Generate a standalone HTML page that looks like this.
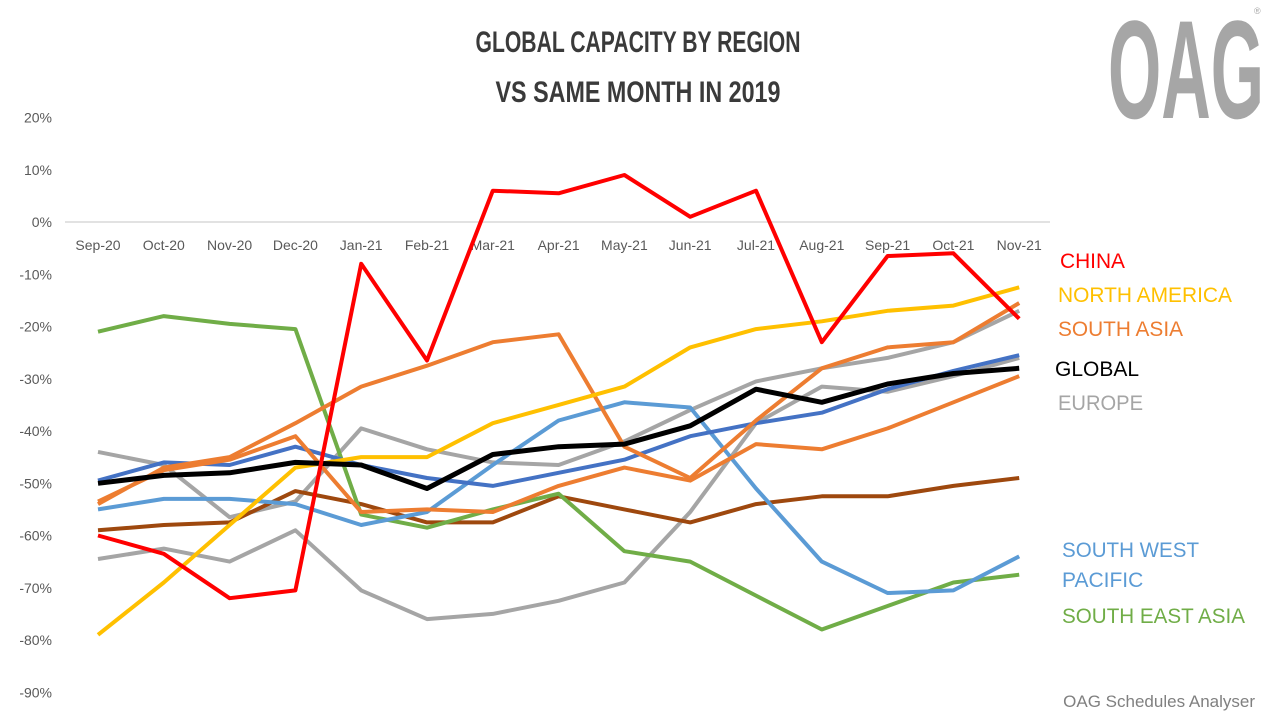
<!DOCTYPE html>
<html><head><meta charset="utf-8"><style>
body{margin:0;background:#fff;}
svg{display:block;font-family:"Liberation Sans",sans-serif;}
</style></head><body>
<svg id="c" width="1280" height="720" viewBox="0 0 1280 720" xmlns="http://www.w3.org/2000/svg">
<text x="638" y="52" text-anchor="middle" font-family="Liberation Sans Narrow, Liberation Sans, sans-serif" font-weight="bold" font-size="30" fill="#3a3a3a" textLength="325" lengthAdjust="spacingAndGlyphs">GLOBAL CAPACITY BY REGION</text>
<text x="638" y="102" text-anchor="middle" font-family="Liberation Sans Narrow, Liberation Sans, sans-serif" font-weight="bold" font-size="30" fill="#3a3a3a" textLength="285" lengthAdjust="spacingAndGlyphs">VS SAME MONTH IN 2019</text>
<text x="1108" y="118" font-family="Liberation Sans Narrow, Liberation Sans, sans-serif" font-weight="bold" font-size="140" fill="#a6a6a6" textLength="156" lengthAdjust="spacingAndGlyphs">OAG</text>
<text x="1254" y="14" font-size="9" fill="#a6a6a6">®</text>
<line x1="65" y1="222" x2="1050" y2="222" stroke="#d9d9d9" stroke-width="1.5"/>
<g id="g"></g>
<text x="1060" y="268" font-size="21" fill="#ff0000" textLength="65" lengthAdjust="spacingAndGlyphs">CHINA</text>
<text x="1058" y="302" font-size="21" fill="#ffc000" textLength="174" lengthAdjust="spacingAndGlyphs">NORTH AMERICA</text>
<text x="1058" y="336" font-size="21" fill="#ed7d31" textLength="125" lengthAdjust="spacingAndGlyphs">SOUTH ASIA</text>
<text x="1055" y="376" font-size="21" fill="#000" textLength="84" lengthAdjust="spacingAndGlyphs">GLOBAL</text>
<text x="1058" y="410" font-size="21" fill="#a5a5a5" textLength="85" lengthAdjust="spacingAndGlyphs">EUROPE</text>
<text x="1062" y="557" font-size="21" fill="#5b9bd5" textLength="137" lengthAdjust="spacingAndGlyphs">SOUTH WEST</text>
<text x="1062" y="587" font-size="21" fill="#5b9bd5">PACIFIC</text>
<text x="1062" y="623" font-size="21" fill="#70ad47" textLength="183" lengthAdjust="spacingAndGlyphs">SOUTH EAST ASIA</text>
<text x="1255" y="707" text-anchor="end" font-size="17" fill="#808080">OAG Schedules Analyser</text>
</svg>
<script>
var g=document.getElementById('g'),h='';
function Y(v){return 222-v*5.225;}function X(i){return 98+i*65.8;}
for(var v=20;v>=-90;v-=10){h+='<text x="52" y="'+(Y(v)+5)+'" text-anchor="end" font-size="14" fill="#595959">'+v+'%</text>';}
var m=['Sep-20','Oct-20','Nov-20','Dec-20','Jan-21','Feb-21','Mar-21','Apr-21','May-21','Jun-21','Jul-21','Aug-21','Sep-21','Oct-21','Nov-21'];
m.forEach(function(s,i){h+='<text x="'+X(i)+'" y="250" text-anchor="middle" font-size="14" fill="#595959">'+s+'</text>';});
var S=[
['#a5a5a5',[-64.5,-62.5,-65,-59,-70.5,-76,-75,-72.5,-69,-55.5,-38.5,-31.5,-32.5,-29.5,-26]],
['#a5a5a5',[-44,-46.5,-56.5,-53.5,-39.5,-43.5,-46,-46.5,-42,-36,-30.5,-28,-26,-23,-17]],
['#9e480e',[-59,-58,-57.5,-51.5,-54,-57.5,-57.5,-52.5,-55,-57.5,-54,-52.5,-52.5,-50.5,-49]],
['#70ad47',[-21,-18,-19.5,-20.5,-56,-58.5,-55,-52,-63,-65,-71.5,-78,-73.5,-69,-67.5]],
['#5b9bd5',[-55,-53,-53,-54,-58,-55.5,-46.5,-38,-34.5,-35.5,-51,-65,-71,-70.5,-64]],
['#4472c4',[-49.5,-46,-46.5,-43,-46.5,-49,-50.5,-48,-45.5,-41,-38.5,-36.5,-32,-28.5,-25.5]],
['#ed7d31',[-53.5,-47.5,-45.5,-41,-55.5,-55,-55.5,-50.5,-47,-49.5,-42.5,-43.5,-39.5,-34.5,-29.5]],
['#ed7d31',[-54,-47,-45,-38.5,-31.5,-27.5,-23,-21.5,-43,-49,-38,-28,-24,-23,-15.5]],
['#ffc000',[-79,-69,-58,-47,-45,-45,-38.5,-35,-31.5,-24,-20.5,-19,-17,-16,-12.5]],
['#000000',[-50,-48.5,-48,-46,-46.5,-51,-44.5,-43,-42.5,-39,-32,-34.5,-31,-29,-28],5],
['#ff0000',[-60,-63.5,-72,-70.5,-8,-26.5,6,5.5,9,1,6,-23,-6.5,-6,-18.5]]];
S.forEach(function(s){h+='<polyline fill="none" stroke-linejoin="round" stroke="'+s[0]+'" stroke-width="'+(s[2]||4)+'" points="'+s[1].map(function(v,i){return X(i).toFixed(1)+','+Y(v).toFixed(1);}).join(' ')+'"/>';});
g.innerHTML=h;
</script>
</body></html>
